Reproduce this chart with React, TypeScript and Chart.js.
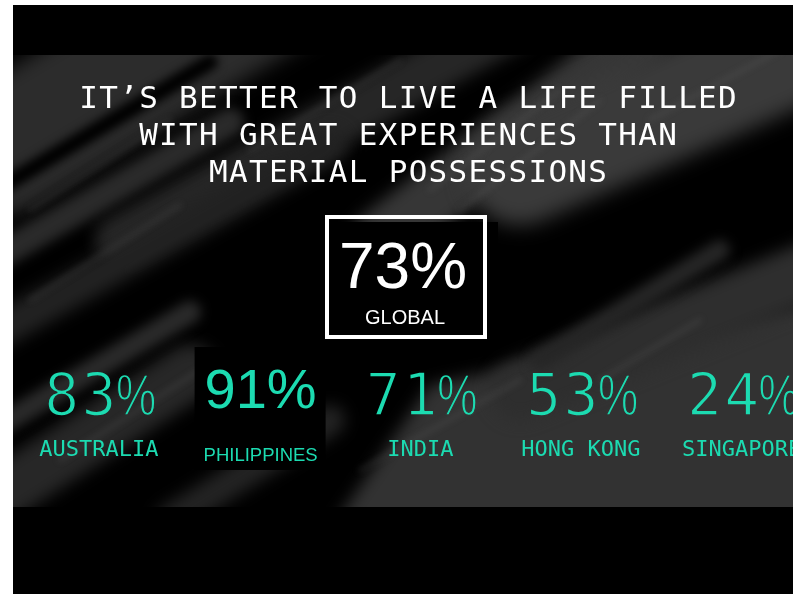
import React, { useEffect, useRef } from "react";
import { Chart, registerables } from "chart.js";

Chart.register(...registerables);

// ---- data ----
const TITLE_LINES = [
  "IT’S BETTER TO LIVE A LIFE FILLED",
  "WITH GREAT EXPERIENCES THAN",
  "MATERIAL POSSESSIONS",
];
const COUNTRIES = ["AUSTRALIA", "PHILIPPINES", "INDIA", "HONG KONG", "SINGAPORE"];
const VALUES = [83, 91, 71, 53, 24];
const GLOBAL_VALUE = 73;
const GLOBAL_LABEL = "GLOBAL";
const HIGHLIGHT = "PHILIPPINES";

const TEAL = "#1cdbb1";
const MONO = '"DejaVu Sans Mono", monospace';
const SANS = '"Liberation Sans", Arial, sans-serif';

// page offset of canvas
const OX = 13;
const OY = 5;

type Streak = [number, number, number, number, number, string, number];
// decorative brushed background (page coordinates)
const STREAKS: Streak[] = [
  [0, 150, 300, -30, 130, "#2c2c2c", 10],
  [0, 188, 210, 62, 16, "#000000", 5],
  [120, 240, 520, 20, 50, "#262626", 8],
  [380, 240, 640, 40, 60, "#363636", 8],
  [520, 170, 840, 30, 110, "#3a3a3a", 10],
  [0, 330, 330, 145, 35, "#222222", 8],
  [0, 255, 230, 122, 28, "#2a2a2a", 6],
  [0, 495, 190, 372, 55, "#272727", 8],
  [0, 425, 190, 312, 22, "#2a2a2a", 6],
  [170, 520, 330, 420, 30, "#232323", 8],
  [520, 390, 840, 260, 60, "#2e2e2e", 8],
  [540, 360, 720, 250, 20, "#262626", 6],
];
const THIN: [number, number, number, number][] = [
  [430, 190, 560, 90],
  [460, 210, 600, 100],
  [30, 210, 170, 120],
  [60, 460, 200, 370],
  [600, 380, 700, 320],
  [250, 150, 400, 60],
  [650, 120, 780, 50],
  [30, 300, 180, 205],
  [360, 470, 520, 380],
];

const bgPlugin = {
  id: "bg",
  beforeDraw(chart: any) {
    const ctx = chart.ctx as CanvasRenderingContext2D;
    ctx.save();
    ctx.fillStyle = "#000";
    ctx.fillRect(0, 0, chart.width, chart.height);
    ctx.beginPath();
    ctx.rect(0, 55 - OY, chart.width, 507 - 55);
    ctx.clip();
    ctx.filter = "blur(8px)";
    ctx.fillStyle = "#323232";
    ctx.beginPath();
    ctx.moveTo(330 - OX, 530 - OY);
    ctx.lineTo(430 - OX, 385 - OY);
    ctx.lineTo(840 - OX, 295 - OY);
    ctx.lineTo(840 - OX, 530 - OY);
    ctx.closePath();
    ctx.fill();
    ctx.lineCap = "round";
    for (const [x1, y1, x2, y2, w, c, b] of STREAKS) {
      ctx.filter = `blur(${b}px)`;
      ctx.strokeStyle = c;
      ctx.lineWidth = w;
      ctx.beginPath();
      ctx.moveTo(x1 - OX, y1 - OY);
      ctx.lineTo(x2 - OX, y2 - OY);
      ctx.stroke();
    }
    ctx.filter = "blur(3px)";
    ctx.globalAlpha = 0.2;
    ctx.strokeStyle = "#777";
    ctx.lineWidth = 4;
    for (const [x1, y1, x2, y2] of THIN) {
      ctx.beginPath();
      ctx.moveTo(x1 - OX, y1 - OY);
      ctx.lineTo(x2 - OX, y2 - OY);
      ctx.stroke();
    }
    ctx.restore();
  },
};

// thin monospace percentage: digits eroded slightly, % glyph narrowed
function drawPct(ctx: CanvasRenderingContext2D, val: number, cx: number, by: number) {
  const off = document.createElement("canvas");
  off.width = ctx.canvas.width;
  off.height = ctx.canvas.height;
  const o = off.getContext("2d") as CanvasRenderingContext2D;
  o.fillStyle = TEAL;
  o.strokeStyle = "#000";
  o.lineJoin = "round";
  o.lineWidth = 1.6;
  o.textAlign = "center";
  o.textBaseline = "alphabetic";
  o.font = `58px ${MONO}`;
  const adv = o.measureText("0").width + 2.2;
  const s = `${val}%`;
  const x0 = cx - (s.length * adv) / 2;
  for (let k = 0; k < s.length - 1; k++) {
    const ccx = x0 + (k + 0.5) * adv;
    o.globalCompositeOperation = "source-over";
    o.fillText(s[k], ccx, by);
    o.globalCompositeOperation = "destination-out";
    o.strokeText(s[k], ccx, by);
  }
  const pcx = x0 + (s.length - 0.5) * adv;
  o.save();
  o.translate(pcx, by);
  o.scale(0.78, 1);
  o.font = `58px ${SANS}`;
  o.globalCompositeOperation = "source-over";
  o.fillText("%", 0, 0);
  o.globalCompositeOperation = "destination-out";
  o.lineWidth = 1.4;
  o.strokeText("%", 0, 0);
  o.restore();
  ctx.drawImage(off, 0, 0);
}

const textPlugin = {
  id: "texts",
  afterDatasetsDraw(chart: any) {
    const ctx = chart.ctx as CanvasRenderingContext2D;
    const area = chart.chartArea;
    const xs = chart.scales.x;
    const cx = (area.left + area.right) / 2;
    ctx.save();
    // title
    ctx.fillStyle = "#ffffff";
    ctx.textAlign = "center";
    ctx.textBaseline = "alphabetic";
    ctx.font = `31px ${MONO}`;
    (ctx as any).letterSpacing = "1.3px";
    TITLE_LINES.forEach((line, i) => {
      ctx.fillText(line, cx + 5 + 0.65, 108 - OY + i * 37);
    });
    (ctx as any).letterSpacing = "0px";

    // global box
    ctx.fillStyle = "#000";
    ctx.fillRect(314 - OX, 222 - OY, 184, 123);
    ctx.strokeStyle = "#fff";
    ctx.lineWidth = 4;
    ctx.strokeRect(327 - OX, 217 - OY, 158, 120);
    ctx.fillStyle = "#fff";
    ctx.font = `64px ${SANS}`;
    ctx.fillText(`${GLOBAL_VALUE}%`, cx + 13 - OX, 288 - OY);
    ctx.font = `20px ${SANS}`;
    ctx.fillText(GLOBAL_LABEL, cx + 15 - OX, 324 - OY);

    // countries
    const meta = chart.getDatasetMeta(0);
    meta.data.forEach((_pt: any, i: number) => {
      const x = xs.getPixelForValue(i);
      const name = COUNTRIES[i];
      const val = VALUES[i];
      if (name === HIGHLIGHT) {
        ctx.fillStyle = "#000";
        ctx.fillRect(x - 65, 347 - OY, 131, 123);
        ctx.fillStyle = TEAL;
        ctx.font = `56px ${SANS}`;
        ctx.fillText(`${val}%`, x + 1, 408 - OY);
        ctx.font = `18.5px ${SANS}`;
        ctx.fillText(name, x + 1, 461 - OY);
      } else {
        drawPct(ctx, val, x, 415 - OY);
        ctx.fillStyle = TEAL;
        ctx.textAlign = "center";
        ctx.font = `22px ${MONO}`;
        ctx.fillText(name, x, 456 - OY);
      }
    });
    ctx.restore();
  },
};

export default function App() {
  const ref = useRef<HTMLCanvasElement | null>(null);
  useEffect(() => {
    if (!ref.current) return;
    const chart = new Chart(ref.current, {
      type: "scatter",
      data: {
        datasets: [
          {
            data: COUNTRIES.map((_, i) => ({ x: i, y: VALUES[i] })),
            pointRadius: 0,
            showLine: false,
          },
        ],
      },
      options: {
        responsive: false,
        animation: false,
        layout: { padding: 0 },
        plugins: { legend: { display: false }, tooltip: { enabled: false } },
        scales: {
          x: { type: "linear", display: false, min: -0.535, max: 4.32 },
          y: { display: false, min: 0, max: 100 },
        },
      },
      plugins: [bgPlugin, textPlugin],
    });
    return () => chart.destroy();
  }, []);
  return (
    <div style={{ position: "absolute", left: 0, top: 0, width: 793, height: 594, background: "#fff", overflow: "hidden" }}>
      <canvas
        ref={ref}
        width={780}
        height={589}
        style={{ position: "absolute", left: OX, top: OY, width: 780, height: 589, display: "block" }}
      />
    </div>
  );
}
